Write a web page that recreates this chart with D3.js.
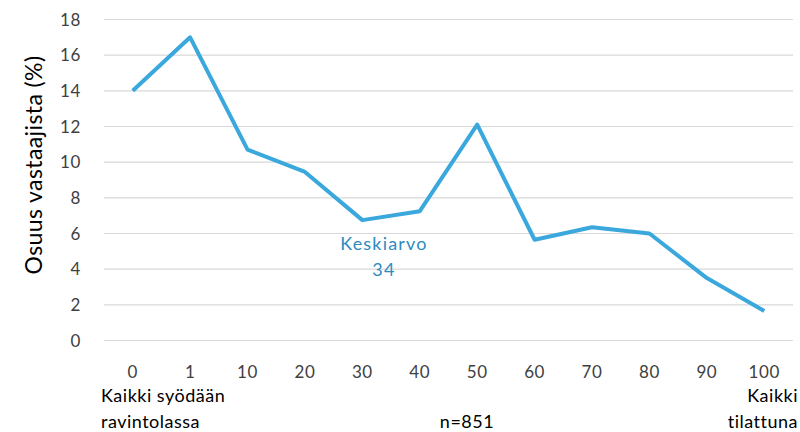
<!DOCTYPE html>
<html>
<head>
<meta charset="utf-8">
<style>
    body { margin: 0; background: #fff; }
    svg { font-family: Lato, 'Open Sans', sans-serif; }
</style>
</head>
<body>
<svg width="800" height="432"></svg>
<script src="https://d3js.org/d3.v7.min.js"></script>
<script>
    // data
    let categories = ["0", "1", "10", "20", "30", "40", "50", "60", "70", "80", "90", "100"];
    let shares = [14.0, 17.0, 10.7, 9.45, 6.75, 7.25, 12.1, 5.65, 6.35, 6.0, 3.5, 1.65];
    let yTicks = [0, 2, 4, 6, 8, 10, 12, 14, 16, 18];

    let svg = d3.select("svg");
    let margin = {top: 19.5, right: 7, bottom: 91.5, left: 104};
    let width = 800, height = 432;

    let x = d3.scaleBand()
        .domain(categories)
        .range([margin.left, width - margin.right]);

    let y = d3.scaleLinear()
        .domain([0, 18])
        .range([height - margin.bottom, margin.top]);

    // gridlines
    svg.append("g")
        .selectAll("line")
        .data(yTicks)
        .join("line")
        .attr("x1", margin.left)
        .attr("x2", width - margin.right)
        .attr("y1", d => y(d))
        .attr("y2", d => y(d))
        .attr("stroke", "#d9d9d9")
        .attr("stroke-width", 1.2);

    // y tick labels
    svg.append("g")
        .selectAll("text")
        .data(yTicks)
        .join("text")
        .attr("x", 81)
        .attr("y", d => y(d))
        .attr("dy", "0.36em")
        .attr("text-anchor", "end")
        .attr("font-size", 17)
        .attr("letter-spacing", 0.6)
        .attr("fill", "#404040")
        .text(d => d);

    // x tick labels
    svg.append("g")
        .selectAll("text")
        .data(categories)
        .join("text")
        .attr("x", d => x(d) + x.bandwidth() / 2)
        .attr("y", 378)
        .attr("text-anchor", "middle")
        .attr("font-size", 17)
        .attr("letter-spacing", 0.6)
        .attr("fill", "#404040")
        .text(d => d);

    // y axis title
    svg.append("text")
        .attr("transform", "translate(42,165) rotate(-90)")
        .attr("text-anchor", "middle")
        .attr("font-size", 23)
        .attr("letter-spacing", 0.4)
        .attr("fill", "#000")
        .text("Osuus vastaajista (%)");

    // the line
    let line = d3.line()
        .x((d, i) => x(categories[i]) + x.bandwidth() / 2)
        .y(d => y(d));

    svg.append("path")
        .datum(shares)
        .attr("d", line)
        .attr("fill", "none")
        .attr("stroke", "#3aa8dc")
        .attr("stroke-width", 4)
        .attr("stroke-linejoin", "round");

    // annotations
    let notes = svg.append("g").attr("font-size", 18).attr("letter-spacing", 0.5).attr("fill", "#000");
    notes.append("text").attr("x", 101).attr("y", 402).text("Kaikki syödään");
    notes.append("text").attr("x", 101).attr("y", 428).text("ravintolassa");
    notes.append("text").attr("x", 467).attr("y", 428).attr("text-anchor", "middle").text("n=851");
    notes.append("text").attr("x", 798).attr("y", 402).attr("text-anchor", "end").text("Kaikki");
    notes.append("text").attr("x", 798).attr("y", 428).attr("text-anchor", "end").text("tilattuna");

    let mean = svg.append("g").attr("font-size", 18).attr("letter-spacing", 1.2)
        .attr("fill", "#2e8bc0").attr("text-anchor", "middle");
    mean.append("text").attr("x", 384).attr("y", 250).text("Keskiarvo");
    mean.append("text").attr("x", 384).attr("y", 276).text("34");
</script>
</body>
</html>
